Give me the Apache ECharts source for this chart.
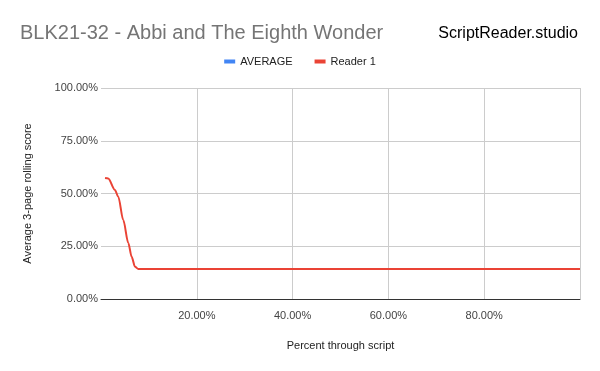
<!DOCTYPE html>
<html><head><meta charset="utf-8">
<script src="https://cdn.jsdelivr.net/npm/echarts@6/dist/echarts.min.js"></script>
<style>html,body{margin:0;padding:0;background:#fff}#c{width:600px;height:371px}</style>
</head><body><div id="c"></div>
<script>
const titleText = 'BLK21-32 - Abbi and The Eighth Wonder';
const brandText = 'ScriptReader.studio';
const seriesNames = ['AVERAGE', 'Reader 1'];
const readerX = [0.84, 1.5, 2.9, 3.6, 4.65, 5.7, 6.4, 7.1, 7.8, 9.0, 100];
const readerY = [57.3, 57.1, 51.7, 48.5, 37.4, 26.5, 20.0, 15.3, 14.2, 14.2, 14.2];
const averageY = [];
const xTicks = [20, 40, 60, 80];
const yTicks = [0, 25, 50, 75, 100];

const chart = echarts.init(document.getElementById('c'), null, {renderer: 'canvas'});
const font = 'Liberation Sans, Arial, sans-serif';
chart.setOption({
  animation: false,
  textStyle: {fontFamily: font},
  title: [
    {text: titleText, left: 15, top: 18, textStyle: {fontFamily: font, fontSize: 20, fontWeight: 'normal', color: '#757575'}},
    {text: brandText, right: 17, top: 21, textStyle: {fontFamily: font, fontSize: 16, fontWeight: 'normal', color: '#000'}}
  ],
  legend: {
    data: seriesNames, top: 51, left: 'center', itemWidth: 11, itemHeight: 4, itemGap: 22,
    icon: 'rect', textStyle: {fontFamily: font, fontSize: 11, color: '#222'}
  },
  grid: {left: 101, right: 20, top: 88, bottom: 72},
  xAxis: {
    type: 'value', min: 0, max: 100, interval: 20,
    name: 'Percent through script', nameLocation: 'middle', nameGap: 41,
    nameTextStyle: {fontFamily: font, fontSize: 11, color: '#222'},
    axisLine: {show: true, lineStyle: {color: '#333', width: 1}},
    axisTick: {show: false},
    axisLabel: {fontFamily: font, fontSize: 11, color: '#444', margin: 11,
      formatter: v => xTicks.includes(v) ? v.toFixed(2) + '%' : ''},
    splitLine: {show: true, showMinLine: false, lineStyle: {color: '#cccccc', width: 1}}
  },
  yAxis: {
    type: 'value', min: 0, max: 100, interval: 25,
    name: 'Average 3-page rolling score', nameLocation: 'middle', nameGap: 68,
    nameTextStyle: {fontFamily: font, fontSize: 11, color: '#222'},
    axisLine: {show: false}, axisTick: {show: false},
    axisLabel: {fontFamily: font, fontSize: 11, color: '#444', margin: 3,
      formatter: v => yTicks.includes(v) ? v.toFixed(2) + '%' : ''},
    splitLine: {show: true, lineStyle: {color: '#cccccc', width: 1}}
  },
  series: [
    {name: seriesNames[0], type: 'line', data: averageY, color: '#4285F4', showSymbol: false, lineStyle: {width: 2}},
    {name: seriesNames[1], type: 'line', color: '#EA4335', showSymbol: false, smooth: 0.3, smoothMonotone: 'x',
      lineStyle: {width: 2}, data: readerX.map((x, i) => [x, readerY[i]])}
  ]
});
</script></body></html>
